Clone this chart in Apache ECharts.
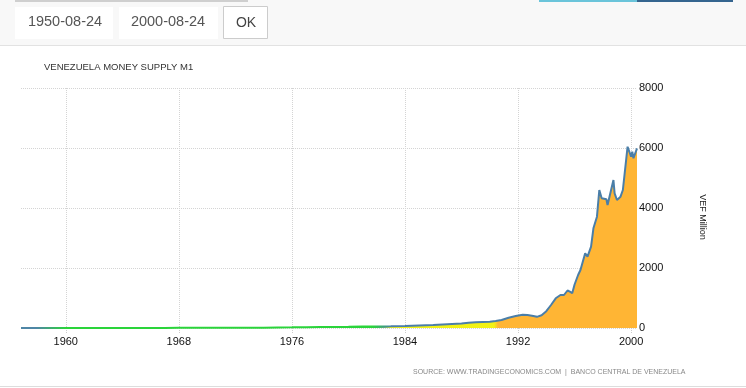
<!DOCTYPE html>
<html><head><meta charset="utf-8">
<script src="https://cdn.jsdelivr.net/npm/echarts@6/dist/echarts.min.js"></script>
<style>html,body{margin:0;padding:0;background:#fff}#c{width:746px;height:388px}</style>
</head><body><div id="c"></div>
<script>
// Venezuela Money Supply M1 (VEF Million)
const dates = [
  '1956-11','1958-01','1959-01','1960-01','1961-01','1962-01','1963-01','1964-01','1965-01','1966-01',
  '1967-01','1968-01','1969-01','1970-01','1971-01','1972-01','1973-01','1974-01','1975-01','1976-01',
  '1977-01','1978-01','1979-01','1980-01','1981-01','1982-01','1983-01','1984-01','1985-01','1986-01',
  '1987-01','1988-01','1988-07','1989-01','1989-07','1990-01','1990-06','1990-11','1991-05','1991-11',
  '1992-05','1992-09','1993-02','1993-05','1993-09','1994-01','1994-05','1994-09','1995-01','1995-04',
  '1995-07','1995-09','1995-11','1996-01','1996-04','1996-06','1996-10','1996-12','1997-03','1997-05',
  '1997-08','1997-10','1997-12','1998-04','1998-05','1998-10','1998-11','1999-01','1999-04','1999-06',
  '1999-07','1999-10','2000-01','2000-02','2000-03','2000-06'
];
const m1Values = [
  2.0,2.3,2.5,2.4,2.4,2.6,2.9,3.2,3.5,3.7,
  4.0,4.4,4.8,5.4,6.1,7.0,8.5,11,17,22,
  28,33,36,40,46,52,58,70,85,100,
  125,150,175,190,200,210,230,267,343,400,
  443,433,400,372,425,560,767,990,1100,1100,
  1250,1210,1160,1450,1767,1933,2490,2377,2710,3323,
  3710,4600,4323,4290,4100,4933,4490,4267,4377,4600,
  4657,6043,5710,5877,5657,5990
];
const xTickYears = [1960, 1968, 1976, 1984, 1992, 2000];
const yTicks = [0, 2000, 4000, 6000, 8000];
const titleText = 'VENEZUELA MONEY SUPPLY M1';
const sourceText = 'SOURCE: WWW.TRADINGECONOMICS.COM  |  BANCO CENTRAL DE VENEZUELA';
const unitText = 'VEF Million';
const dateFrom = '1950-08-24', dateTo = '2000-08-24';

function toYear(s) { const p = s.split('-'); return +p[0] + (+p[1] - 1) / 12; }
const seriesData = dates.map((d, i) => [toYear(d), m1Values[i]]);
const xMin = seriesData[0][0], xMax = seriesData[seriesData.length - 1][0];

const W = 746;
const lineGrad = new echarts.graphic.LinearGradient(0, 0, W, 0, [
  {offset: 0, color: '#4f86a6'}, {offset: 36 / W, color: '#4f86a6'},
  {offset: 66 / W, color: '#2ad43a'}, {offset: 372 / W, color: '#2ad43a'},
  {offset: 392 / W, color: '#4a7ea8'}, {offset: 1, color: '#4a7ea8'}
], true);
const areaGrad = new echarts.graphic.LinearGradient(0, 0, W, 0, [
  {offset: 0, color: '#5a90a8'}, {offset: 36 / W, color: '#5a90a8'},
  {offset: 66 / W, color: '#2ad43a'}, {offset: 376 / W, color: '#2ad43a'},
  {offset: 384 / W, color: '#6aa88a'}, {offset: 391 / W, color: '#f2f214'},
  {offset: 494 / W, color: '#f2f214'}, {offset: 498 / W, color: '#ffb534'},
  {offset: 1, color: '#ffb534'}
], true);

const chart = echarts.init(document.getElementById('c'), null, {renderer: 'canvas'});
const labelFont = {fontFamily: 'Liberation Sans', fontSize: 11, color: '#111'};
chart.setOption({
  animation: false,
  backgroundColor: '#fff',
  grid: {left: 21, right: 109, top: 88, bottom: 60, containLabel: false},
  xAxis: {
    type: 'value', min: xMin, max: xMax,
    axisLine: {show: false},
    axisTick: {show: true, customValues: xTickYears, length: 5, lineStyle: {color: '#ccc', type: 'dotted'}},
    axisLabel: Object.assign({customValues: xTickYears, margin: 8, formatter: v => String(Math.round(v))}, labelFont),
    splitLine: {show: true, lineStyle: {color: '#d4d4d4', type: 'dotted', width: 1}}
  },
  yAxis: {
    type: 'value', position: 'right', min: yTicks[0], max: yTicks[yTicks.length - 1], interval: yTicks[1] - yTicks[0],
    axisLine: {show: false}, axisTick: {show: false},
    axisLabel: Object.assign({margin: 2, formatter: v => String(v)}, labelFont),
    splitLine: {show: true, lineStyle: {color: '#d4d4d4', type: 'dotted', width: 1}}
  },
  series: [{
    type: 'line', data: seriesData, showSymbol: false, smooth: false,
    lineStyle: {width: 2, color: lineGrad},
    areaStyle: {color: areaGrad, opacity: 1},
    z: 3
  }],
  graphic: [
    {type: 'rect', shape: {x: 0, y: 0, width: W, height: 45}, style: {fill: '#f8f8f8'}, silent: true},
    {type: 'rect', shape: {x: 0, y: 45, width: W, height: 1}, style: {fill: '#e2e2e2'}, silent: true},
    {type: 'rect', shape: {x: 15, y: 0, width: 233, height: 2}, style: {fill: '#cfcfcf'}, silent: true},
    {type: 'rect', shape: {x: 539, y: 0, width: 98, height: 2}, style: {fill: '#6ac4da'}, silent: true},
    {type: 'rect', shape: {x: 637, y: 0, width: 96, height: 2}, style: {fill: '#35658f'}, silent: true},
    {type: 'rect', shape: {x: 15, y: 7, width: 98, height: 32}, style: {fill: '#fff'}, silent: true},
    {type: 'rect', shape: {x: 119, y: 7, width: 99, height: 32}, style: {fill: '#fff'}, silent: true},
    {type: 'rect', shape: {x: 223.5, y: 6.5, width: 44, height: 32}, style: {fill: '#fff', stroke: '#cccccc', lineWidth: 1}, silent: true},
    {type: 'text', x: 65, y: 22, style: {text: dateFrom, fill: '#555', font: '14.5px "Liberation Sans"', textAlign: 'center', textVerticalAlign: 'middle'}},
    {type: 'text', x: 168, y: 22, style: {text: dateTo, fill: '#555', font: '14.5px "Liberation Sans"', textAlign: 'center', textVerticalAlign: 'middle'}},
    {type: 'text', x: 246, y: 23, style: {text: 'OK', fill: '#444', font: '14px "Liberation Sans"', textAlign: 'center', textVerticalAlign: 'middle'}},
    {type: 'text', x: 44, y: 67, style: {text: titleText, fill: '#333', font: '9.5px "Liberation Sans"', textAlign: 'left', textVerticalAlign: 'middle'}},
    {type: 'text', x: 702, y: 217, rotation: -Math.PI / 2, style: {text: unitText, fill: '#222', font: '9px "Liberation Sans"', textAlign: 'center', textVerticalAlign: 'middle'}},
    {type: 'text', x: 413, y: 372, style: {text: sourceText, fill: '#888', font: '7px "Liberation Sans"', textAlign: 'left', textVerticalAlign: 'middle'}},
    {type: 'rect', shape: {x: 0, y: 386, width: W, height: 1}, style: {fill: '#dddddd'}, silent: true}
  ]
});
</script>
</body></html>
